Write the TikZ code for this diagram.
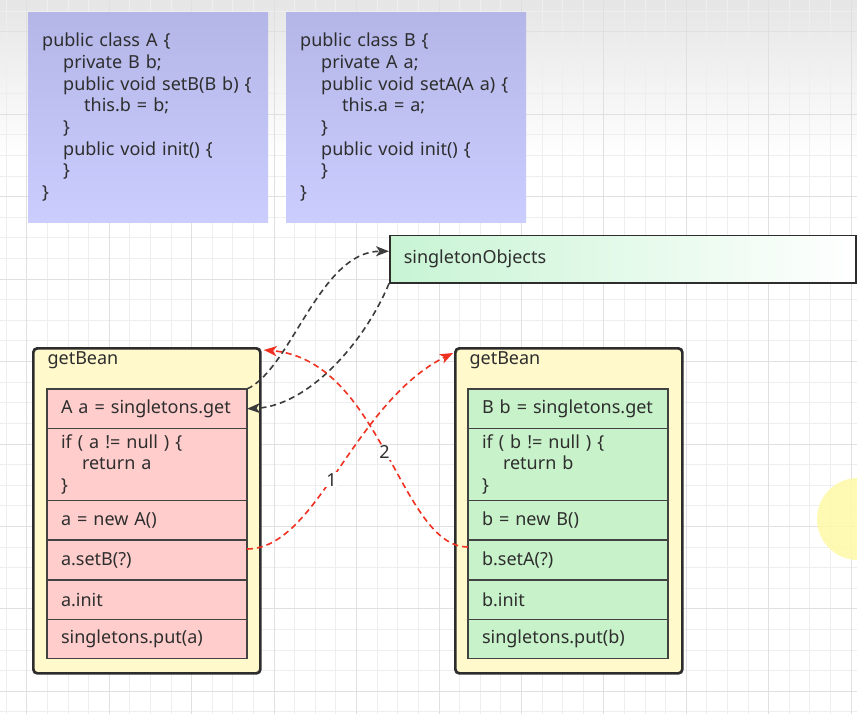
\documentclass[tikz,border=0pt]{standalone}
\usepackage{fontspec}
\setmainfont{Noto Sans}
\usetikzlibrary{positioning,arrows.meta}
\definecolor{codeTop}{RGB}{180,182,232}
\definecolor{codeBot}{RGB}{204,205,255}
\definecolor{beanYellow}{RGB}{255,249,204}
\definecolor{rowPink}{RGB}{255,206,204}
\definecolor{rowGreen}{RGB}{200,242,202}
\definecolor{mint}{RGB}{200,244,212}
\definecolor{edgeGray}{RGB}{45,45,45}
\definecolor{linkRed}{RGB}{240,48,32}
\definecolor{linkGray}{RGB}{60,60,60}
\definecolor{gridMinor}{RGB}{238,238,238}
\definecolor{gridMajor}{RGB}{224,224,224}
\newcommand\codefont{\fontsize{18}{21.7}\selectfont}
\tikzset{
  codebox/.style={anchor=north west,minimum width=240pt,minimum height=210pt,
    text width=212pt,inner xsep=14pt,align=left,top color=codeTop,bottom color=codeBot},
  beanbox/.style={anchor=north west,draw=edgeGray,line width=2.7pt,rounded corners=4pt,
    fill=beanYellow,minimum width=227pt,minimum height=325pt},
  stmt/.style={draw=edgeGray!90,line width=1.3pt,outer sep=0pt,anchor=north west,
    text width=172pt,inner xsep=14pt,inner ysep=0pt,align=left},
  stmtA/.style={stmt,fill=rowPink},
  stmtB/.style={stmt,fill=rowGreen},
  getlink/.style={draw=linkGray,line width=1.6pt,dash pattern=on 6pt off 4pt,
    -{Stealth[length=13pt,width=10pt,inset=3.5pt]}},
  setlink/.style={getlink,draw=linkRed},
  numlbl/.style={fill=white,text=black!82,inner sep=1pt}
}
\begin{document}
\begin{tikzpicture}[x=1pt,y=-1pt,font=\codefont,text=black!82]
\fill[white] (0,0) rectangle (857,714);
\useasboundingbox (0,0) rectangle (857,714);
% background grid
\shade[top color=black!10,bottom color=white] (0,0) rectangle (857,160);
\foreach \i in {0,...,41}
  \draw[gridMinor,line width=0.8pt] ({6.1+20.61*\i},0) -- ++(0,714);
\foreach \i in {0,...,34}
  \draw[gridMinor,line width=0.8pt] (0,{11.1+20.61*\i}) -- ++(857,0);
\foreach \i in {0,...,10}
  \draw[gridMajor,line width=0.9pt] ({26.7+82.45*\i},0) -- ++(0,714);
\foreach \i in {0,...,8}
  \draw[gridMajor,line width=0.9pt] (0,{31.7+82.45*\i}) -- ++(857,0);

% class sources
\node[codebox] (classA) at (28,12) {public class A \{\\
\hspace*{21pt}private B b;\\
\hspace*{21pt}public void setB(B b) \{\\
\hspace*{42pt}this.b = b;\\
\hspace*{21pt}\}\\
\hspace*{21pt}public void init() \{\\
\hspace*{21pt}\}\\
\}};
\node[codebox] (classB) at (286,12) {public class B \{\\
\hspace*{21pt}private A a;\\
\hspace*{21pt}public void setA(A a) \{\\
\hspace*{42pt}this.a = a;\\
\hspace*{21pt}\}\\
\hspace*{21pt}public void init() \{\\
\hspace*{21pt}\}\\
\}};

% cache
\node[anchor=north west,draw=edgeGray,line width=1.5pt,left color=mint,right color=white,
  minimum width=466pt,minimum height=47pt,text width=438pt,inner xsep=14pt,align=left]
  (single) at (389,235) {singletonObjects};

% getBean for A
\node[beanbox] (beanA) at (32,347) {};
\node[anchor=west] (titleA) at (44,360) {getBean};
\node[stmtA,minimum height=39.5pt] (a1) at (47,389) {A a = singletons.get};
\node[stmtA,minimum height=72pt,below=0pt of a1] (a2) {if ( a != null ) \{\\\hspace*{21pt}return a\\\}};
\node[stmtA,minimum height=39.5pt,below=0pt of a2] (a3) {a = new A()};
\node[stmtA,minimum height=40pt,below=0pt of a3] (a4) {a.setB(?)};
\node[stmtA,minimum height=39.5pt,below=0pt of a4] (a5) {a.init};
\node[stmtA,minimum height=39pt,below=0pt of a5] (a6) {singletons.put(a)};

% getBean for B
\node[beanbox] (beanB) at (454,347) {};
\node[anchor=west] (titleB) at (466,360) {getBean};
\node[stmtB,minimum height=39.5pt] (b1) at (468,389) {B b = singletons.get};
\node[stmtB,minimum height=72pt,below=0pt of b1] (b2) {if ( b != null ) \{\\\hspace*{21pt}return b\\\}};
\node[stmtB,minimum height=39.5pt,below=0pt of b2] (b3) {b = new B()};
\node[stmtB,minimum height=40pt,below=0pt of b3] (b4) {b.setA(?)};
\node[stmtB,minimum height=39.5pt,below=0pt of b4] (b5) {b.init};
\node[stmtB,minimum height=39pt,below=0pt of b5] (b6) {singletons.put(b)};

% lookups in the cache
\draw[getlink] (a1.north east) .. controls +(44,-20) and +(-69,0) .. ([yshift=8pt]single.west);
\draw[getlink] (single.south west) .. controls +(-24,58) and +(62,-3) .. (a1.east);

% setter calls
\draw[setlink] ([yshift=11pt]a4.east) .. controls +(70,0) and +(-100,50) ..
  node[numlbl,pos=0.46] (n1) {1} ([shift={(-1pt,-6pt)}]beanB.north west);
\draw[setlink] ([yshift=13pt]b4.west) .. controls +(-68,0) and +(118,10) ..
  node[numlbl,pos=0.5] (n2) {2} ([shift={(2pt,-3pt)}]beanA.north east);

% pointer highlight
\fill[yellow!35,opacity=0.85] (858,519) circle (41);
\end{tikzpicture}
\end{document}
